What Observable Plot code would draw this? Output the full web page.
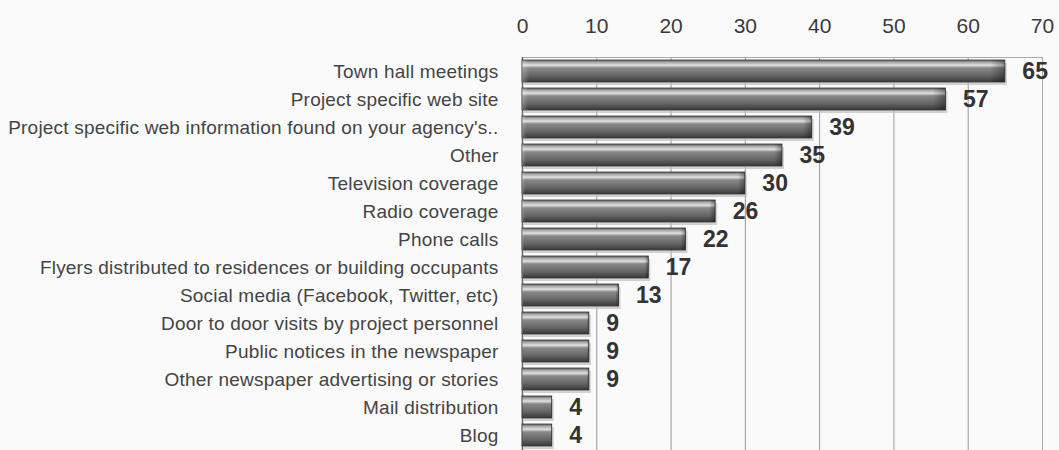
<!DOCTYPE html>
<html>
<head>
<meta charset="utf-8">
<script src="https://cdn.jsdelivr.net/npm/d3@7"></script>
<script src="https://cdn.jsdelivr.net/npm/@observablehq/plot@0.6"></script>
<style>
  html, body { margin: 0; padding: 0; background: #fafafa; }
  #chart svg { display: block; }
  #chart g[aria-label="y-axis tick label"] text { letter-spacing: 0.2px; }
</style>
</head>
<body>
<div id="chart"></div>
<script>
const categories = [
  "Town hall meetings",
  "Project specific web site",
  "Project specific web information found on your agency's..",
  "Other",
  "Television coverage",
  "Radio coverage",
  "Phone calls",
  "Flyers distributed to residences or building occupants",
  "Social media (Facebook, Twitter, etc)",
  "Door to door visits by project personnel",
  "Public notices in the newspaper",
  "Other newspaper advertising or stories",
  "Mail distribution",
  "Blog"
];
const values = [65, 57, 39, 35, 30, 26, 22, 17, 13, 9, 9, 9, 4, 4];
const xTicks = [0, 10, 20, 30, 40, 50, 60, 70];

const data = categories.map((c, i) => ({category: c, value: values[i]}));

const font = "'Liberation Sans', Arial, sans-serif";

const plot = Plot.plot({
  width: 1059,
  height: 450,
  marginLeft: 522,
  marginRight: 17,
  marginTop: 57,
  marginBottom: 0,
  style: {background: "#fafafa", fontFamily: font, color: "#333"},
  x: {domain: [0, 70], ticks: xTicks, axis: null},
  y: {domain: categories, paddingInner: 0.21, paddingOuter: 0.1, axis: null},
  marks: [
    Plot.gridX(xTicks, {stroke: "#999", strokeOpacity: 1, strokeWidth: 1}),
    Plot.frame({stroke: "#aaa", strokeWidth: 1}),
    Plot.ruleX([0], {stroke: "#666", strokeWidth: 1.5}),
    Plot.axisX(xTicks, {anchor: "top", label: null, tickSize: 0, tickPadding: 28, dy: 3, fontSize: 21, fill: "#3a3a3a", fontFamily: font}),
    Plot.axisY({label: null, tickSize: 0, tickPadding: 24, fontSize: 19, fill: "#444", fontFamily: font}),
    Plot.barX(data, {x: "value", y: "category", fill: "#bdbdbd", dx: 2, dy: 3, opacity: 0.7}),
    Plot.barX(data, {x: "value", y: "category", fill: "url(#barGrad)", stroke: "#3a3a3a", strokeWidth: 0.8}),
    Plot.barX(data, {x: "value", y: "category", fill: "url(#capGrad)"}),
    Plot.text(data, {x: "value", y: "category", text: d => String(d.value), dx: 17, textAnchor: "start", fontSize: 23, fontWeight: "bold", fill: "#333", fontFamily: font})
  ]
});

const ns = "http://www.w3.org/2000/svg";
const defs = document.createElementNS(ns, "defs");
defs.innerHTML = `
  <linearGradient id="barGrad" x1="0" y1="0" x2="0" y2="1">
    <stop offset="0%" stop-color="#5e5e5e"/>
    <stop offset="10%" stop-color="#a4a4a4"/>
    <stop offset="24%" stop-color="#e2e2e2"/>
    <stop offset="36%" stop-color="#888888"/>
    <stop offset="70%" stop-color="#666666"/>
    <stop offset="100%" stop-color="#383838"/>
  </linearGradient>
  <linearGradient id="capGrad" x1="0" y1="0" x2="1" y2="0">
    <stop offset="0%" stop-color="#ffffff" stop-opacity="0.25"/>
    <stop offset="1.5%" stop-color="#ffffff" stop-opacity="0"/>
    <stop offset="97%" stop-color="#000000" stop-opacity="0"/>
    <stop offset="100%" stop-color="#000000" stop-opacity="0.35"/>
  </linearGradient>`;
plot.insertBefore(defs, plot.firstChild);

document.getElementById("chart").appendChild(plot);
</script>
</body>
</html>
